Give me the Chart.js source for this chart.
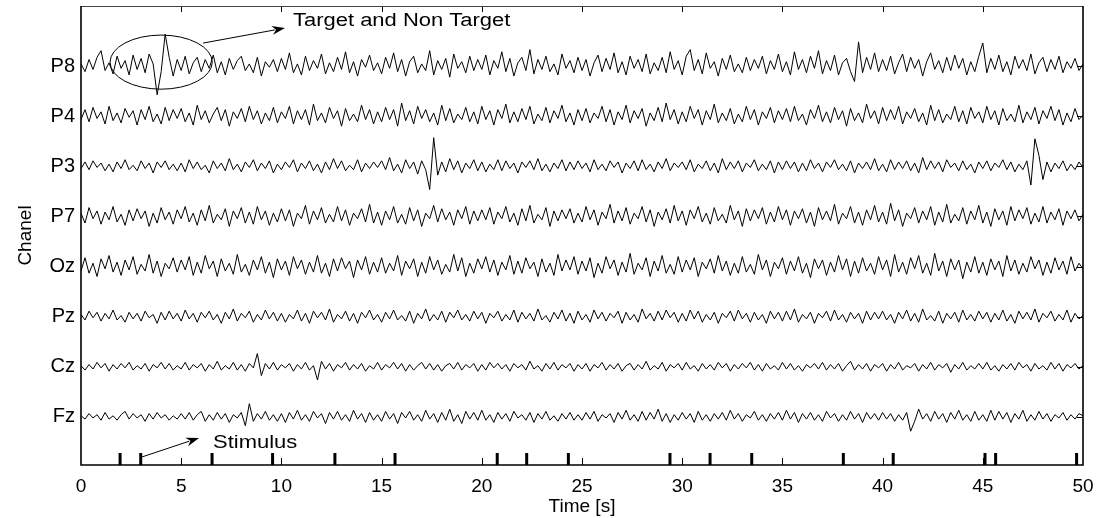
<!DOCTYPE html>
<html>
<head>
<meta charset="utf-8">
<script src="https://cdn.jsdelivr.net/npm/chart.js@4.4.1/dist/chart.umd.min.js"></script>
<style>
  html, body { margin: 0; padding: 0; background: #fff; }
  canvas { display: block; }
</style>
</head>
<body>
<canvas id="eeg" width="1101" height="518"></canvas>
<script>
// channels from bottom (level 1) to top (level 8)
var channelNames = ['Fz', 'Cz', 'Pz', 'Oz', 'P7', 'P3', 'P4', 'P8'];
var timeTicks = [0, 5, 10, 15, 20, 25, 30, 35, 40, 45, 50];
var sampleStep = 0.2; // seconds between samples
var stimulusTimes = [1.95, 2.98, 6.54, 9.56, 12.67, 15.67, 20.77, 22.24, 24.32, 29.39,
                     31.39, 33.47, 38.04, 40.53, 45.11, 45.64, 49.68];

// amplitudes (arbitrary units), one sample every 0.2 s from 0 to 50 s
var p8 = [
  2,-5,6,-3,8,14,-4,3,-7,9,-2,5,-8,10,-3,7,-6,11,2,-26,-5,29,8,-9,6,
  -4,9,-7,3,8,-5,6,-2,10,-6,4,-8,7,-3,5,9,-4,2,-6,8,-9,4,-1,6,-5,
  7,-3,12,-6,2,-8,9,-4,5,-2,11,-7,3,-5,8,-3,13,-6,4,-9,6,-1,10,-4,3,
  -7,8,-2,12,-5,6,-9,4,9,-6,2,-4,14,-8,5,-3,7,-10,11,-2,4,-6,9,-4,6,
  -3,10,-8,5,-2,13,-5,7,-9,3,8,-4,15,-7,6,-3,9,-5,2,-8,11,-2,5,-6,8,
  -4,6,-9,3,10,-5,7,-3,12,-6,4,-8,9,-2,6,-5,11,-7,3,-4,8,-6,13,-3,5,
  -8,9,15,-4,6,-7,12,-2,4,-9,7,-3,10,-5,2,-6,8,-4,6,-2,9,-7,5,-3,11,
  -5,4,-8,13,-3,6,-6,9,-2,14,-7,5,-4,10,-8,3,7,-5,-14,22,-6,8,-3,12,-5,
  6,-4,9,-7,3,11,-5,8,-2,6,-9,4,12,-3,5,-6,8,-4,10,-2,7,-8,4,-5,9,
  21,-6,7,-3,10,-5,4,-8,9,-2,6,-4,11,-7,3,8,-5,6,-3,9,-6,4,-2,7,-4,
  2
];
var p4 = [
  -3,6,-5,8,-2,4,-7,9,-4,3,-6,7,-1,5,-8,6,-3,9,-5,2,-7,8,-4,6,-2,
  7,-5,3,-8,10,-3,5,-6,2,8,-4,6,-9,4,-2,7,-5,9,-3,5,-7,3,-4,8,-6,
  4,-2,9,-7,5,-3,6,-8,11,-4,3,-6,8,-2,5,-9,7,-4,2,-5,10,-3,6,-7,4,
  -5,8,-3,6,-9,12,-4,5,-7,9,-2,6,-5,3,-8,10,-4,7,-6,2,-3,8,-5,4,-7,
  9,-3,5,-8,6,-2,11,-6,4,-5,7,-3,9,-7,2,-4,8,-6,5,-2,10,-5,3,-8,6,
  -4,7,-6,3,-2,9,-5,6,-8,4,-3,10,-6,5,-2,7,-9,3,-4,8,-5,12,-3,6,-7,
  4,-5,9,-2,6,-8,5,-3,11,-6,3,-4,7,-7,2,-5,9,-3,6,-8,4,-2,8,-6,5,
  -3,7,-5,9,-4,2,-8,6,-2,10,-5,4,-6,8,-3,5,-9,7,-4,3,-6,11,-2,5,-7,
  8,-4,6,-3,9,-7,4,-2,7,-5,3,-8,10,-4,6,-6,2,-3,9,-5,5,-7,8,-2,4,
  -6,9,-3,5,-8,7,-4,2,-5,10,-6,4,-3,8,-7,5,-2,9,-4,6,-8,3,-5,7,-3,
  1
];
var p3 = [
  -2,4,-3,5,-1,3,-4,2,-5,4,-2,6,-3,1,-4,5,-2,3,-6,4,-1,5,-3,2,-4,
  3,-5,6,-2,4,-3,1,-6,5,-2,3,-4,7,-3,2,-5,4,-1,6,-4,3,-2,5,-6,2,
  -3,4,-1,6,-5,3,-2,5,-4,2,-6,4,-3,7,-2,5,-4,1,-3,6,-5,3,-2,4,-1,
  5,-3,8,-4,2,-6,6,-2,4,-7,5,-3,-21,26,-8,4,-5,7,-3,5,-6,3,-2,6,-4,
  4,-5,2,-3,6,-4,5,-2,3,-6,4,-1,5,-3,7,-4,2,-5,3,-2,6,-4,4,-3,5,
  -2,3,-5,6,-3,2,-4,5,-1,4,-6,3,-2,5,-4,6,-3,2,-5,4,-2,7,-4,3,-1,
  4,-3,6,-5,2,-2,5,-4,3,-6,7,-3,4,-2,5,-5,3,-1,6,-4,2,-3,5,-6,4,
  -3,5,-2,4,-5,3,-4,6,-2,3,-5,4,-1,6,-3,2,-4,5,-6,3,-2,4,-3,7,-4,
  2,-5,6,-3,4,-2,5,-4,3,-6,8,-3,5,-2,4,-5,6,-1,3,-4,5,-3,2,-6,4,
  -2,5,-4,3,-1,6,-3,4,-5,2,-3,5,-17,25,10,-12,4,-5,3,-2,5,-4,2,-3,4,
  -1
];
var p7 = [
  3,-6,8,-2,5,-7,4,-3,9,-5,2,-8,6,-4,7,-2,5,-9,3,-6,8,-3,4,-7,6,
  -2,9,-5,3,-8,6,-4,10,-6,2,-3,7,-9,5,-2,8,-6,4,-7,9,-3,5,-8,3,-5,
  7,-4,6,-9,3,-2,10,-7,5,-3,8,-6,2,-5,9,-4,6,-8,3,-2,7,-5,11,-6,4,
  -8,5,-3,9,-6,2,-7,8,-4,6,-9,3,-2,10,-5,7,-3,4,-8,6,-2,9,-7,5,-4,
  6,-3,8,-7,4,-2,9,-5,3,-8,7,-4,10,-6,2,-3,8,-9,5,-4,6,-2,7,-6,3,
  -5,9,-3,6,-8,4,-2,11,-6,5,-4,8,-7,3,-2,9,-5,6,-9,4,-3,7,-6,10,-4,
  5,-8,6,-2,9,-5,3,-7,8,-4,2,-6,10,-3,5,-9,7,-4,6,-2,8,-7,4,-5,9,
  -3,6,-8,5,-2,7,-6,4,-9,8,-3,5,-4,11,-7,3,-2,9,-6,4,-8,6,-3,10,-5,
  4,-7,12,-4,6,-9,3,-2,8,-6,5,-3,9,-8,4,-5,11,-6,2,-4,8,-7,5,-3,10,
  -6,4,-9,7,-3,5,-8,9,-4,6,-2,8,-7,3,-5,9,-6,4,-3,7,-8,5,-2,6,-4,
  2
];
var oz = [
  -4,8,-6,3,-9,7,-2,10,-5,4,-8,6,-3,9,-7,2,-4,11,-6,5,-9,3,-2,8,-5,
  6,-3,9,-8,4,-6,10,-2,5,-9,7,-4,3,-7,11,-5,2,-8,6,-3,9,-6,4,-10,7,
  -3,5,-8,9,-2,6,-7,4,-5,10,-6,3,-9,7,-4,8,-2,5,-10,6,-3,9,-7,4,-5,
  8,-6,3,-4,10,-8,5,-2,7,-9,4,-6,9,-3,6,-7,2,-5,11,-4,8,-9,3,-6,7,
  -2,9,-5,6,-8,4,-3,10,-7,5,-6,8,-2,4,-9,7,-5,3,-8,11,-4,6,-3,9,-7,
  5,-4,8,-10,3,-6,9,-2,6,-8,4,-5,12,-7,3,-3,8,-9,5,-4,10,-6,2,-7,9,
  -5,6,-3,8,-9,4,-2,7,-6,10,-4,5,-8,3,-6,9,-5,2,-7,11,-3,6,-9,4,-2,
  8,-7,5,-4,9,-6,3,-10,7,-2,6,-8,4,-5,10,-3,7,-9,5,-6,8,-4,3,-7,9,
  -3,6,-9,11,-5,4,-7,8,-2,10,-6,3,-8,12,-4,5,-9,7,-3,6,-11,4,-5,9,-6,
  4,-8,7,-3,5,-9,10,-4,6,-7,3,-5,9,-2,6,-8,4,-6,8,-3,5,-7,9,-4,3,
  -2
];
var pz = [
  2,-3,5,-1,4,-4,3,-2,6,-3,1,-5,4,-2,3,-4,5,-1,2,-6,4,-3,5,-2,3,
  -4,6,-2,3,-5,4,-1,5,-3,2,-6,4,-2,7,-4,3,-1,5,-5,2,-3,6,-2,4,-4,
  3,-5,2,-2,6,-4,3,-6,5,-1,4,-3,7,-5,2,-2,5,-4,3,-6,4,-1,6,-3,2,
  -5,4,-2,6,-3,1,-4,5,-6,3,-2,7,-4,2,-3,5,-5,4,-1,6,-3,2,-4,5,-2,
  4,-6,3,-1,5,-4,2,-3,6,-5,4,-2,3,-4,7,-3,1,-5,4,-2,6,-4,3,-6,5,
  -3,2,-5,6,-2,4,-4,3,-1,5,-6,4,-3,2,-5,7,-2,3,-4,5,-3,6,-1,4,-5,
  3,-4,6,-2,5,-5,2,-3,4,-6,3,-1,5,-4,6,-2,3,-5,4,-3,2,-6,5,-2,4,
  -4,5,-3,7,-5,2,-2,4,-6,3,-1,5,-4,6,-3,2,-5,4,-2,3,-6,5,-3,4,-2,
  5,-3,2,-6,4,-2,6,-4,3,-5,7,-3,1,-4,5,-6,3,-2,4,-5,6,-3,2,-4,5,
  -2,4,-5,3,-3,6,-4,2,-6,5,-2,4,-3,7,-5,3,-1,5,-4,2,-3,6,-5,3,-2,
  1
];
var cz = [
  1,-3,2,-2,4,-1,3,-4,2,-2,3,-1,4,-3,1,-2,3,-4,2,-1,4,-2,3,-3,1,
  -2,4,-3,2,-1,3,-4,2,-2,5,-3,1,-2,4,-3,2,-4,3,-1,12,-8,3,-2,4,-3,
  2,-1,3,-4,2,-2,4,-3,1,-12,5,-2,3,-4,2,-1,4,-3,2,-2,3,-4,1,-2,4,
  -3,2,-1,4,-2,3,-4,2,-3,1,4,-2,3,-3,2,-4,1,3,-2,4,-3,2,-1,3,-4,
  2,-3,4,-1,3,-2,2,-4,3,-1,2,-3,5,-2,1,-4,3,-2,4,-3,2,-1,3,-4,2,
  -2,3,-4,2,-1,4,-3,2,-2,3,-4,1,3,-3,2,-2,5,-3,1,-2,4,-4,2,-1,3,
  -3,4,-2,1,-4,3,-2,2,-3,4,-1,3,-4,2,-2,3,-1,4,-3,2,-4,3,-2,1,-3,
  4,-2,3,-3,1,-4,2,-1,3,-2,4,-3,2,-2,3,-4,1,5,-3,2,-2,3,-4,2,-1,
  3,-4,2,-2,4,-3,1,-1,3,-4,2,-2,4,-3,2,-1,3,-5,2,-2,4,-3,1,-2,3,
  -2,4,-3,1,-4,2,-2,3,-3,4,-1,2,-4,3,-2,1,-3,4,-2,3,-4,2,-1,3,-2,
  1
];
var fz = [
  1,-2,3,-1,2,-3,4,-2,1,-3,2,5,-2,3,-1,2,-4,3,-2,4,-1,2,-3,1,-2,
  3,-2,4,-3,2,5,-4,2,-3,4,-2,3,-5,2,-1,4,-8,12,-4,3,-2,5,-3,2,-4,
  3,-5,4,-2,6,-3,2,-4,5,-1,3,-6,4,-2,5,-3,2,-4,6,-2,3,-5,4,-3,2,
  -4,5,-2,3,-6,4,-1,5,-3,2,-4,6,-2,3,-5,4,-3,7,-4,2,-6,5,-2,4,-3,
  6,-3,2,-5,4,-2,3,-4,5,-1,2,-3,4,-5,3,-2,5,-3,1,-4,3,-2,4,-3,2,
  -3,4,-2,5,-4,2,-1,3,-5,4,-2,6,-3,2,-4,5,-3,4,-2,7,-4,3,-5,2,-3,
  4,-2,3,-5,5,-3,2,-4,3,-2,4,-3,6,-2,3,-4,2,-1,5,-3,2,-4,3,-2,4,
  -3,6,-2,4,-5,3,-2,4,-3,2,-4,5,-1,3,-4,2,-3,5,-2,3,-5,4,-2,3,-3,
  4,-2,3,-4,2,-3,4,-13,-4,7,-2,3,-4,5,-2,3,-5,4,-2,6,-3,2,-4,5,-3,
  2,-4,6,-3,5,-2,4,-5,3,-2,6,-4,2,-3,5,-2,3,-4,2,-1,4,-3,2,-2,3,
  1
];
var channelData = [fz, cz, pz, oz, p7, p3, p4, p8];

var yMin = 0.04, yMax = 9.2;
var gain = 0.022; // amplitude unit -> channel spacing
var stimHeight = 0.24;

var datasets = channelData.map(function (values, c) {
  return {
    label: channelNames[c],
    data: values.map(function (v, i) { return { x: i * sampleStep, y: c + 1 + v * gain }; }),
    borderColor: '#000',
    borderWidth: 1,
    pointRadius: 0,
    tension: 0,
    fill: false
  };
});

var stimPoints = [];
stimulusTimes.forEach(function (t) {
  stimPoints.push({ x: t, y: yMin }, { x: t, y: yMin + stimHeight }, { x: t, y: null });
});
datasets.push({
  label: 'Stimulus',
  data: stimPoints,
  borderColor: '#000',
  borderWidth: 3,
  pointRadius: 0,
  spanGaps: false,
  fill: false
});

// annotation anchors in data units
var note = {
  ellipse: { x: 4.0, y: 8.08, rx: 2.55, ry: 0.54 },
  targetArrow: { x0: 6.09, y0: 8.46, x1: 10.18, y1: 8.76 },
  targetText: { x: 10.58, y: 8.9, text: 'Target and Non Target' },
  stimArrow: { x0: 3.04, y0: 0.2, x1: 5.89, y1: 0.58 },
  stimText: { x: 6.59, y: 0.48, text: 'Stimulus' }
};

function drawArrow(ctx, x0, y0, x1, y1) {
  var ang = Math.atan2(y1 - y0, x1 - x0), len = 13, half = 4.5;
  ctx.beginPath();
  ctx.moveTo(x0, y0);
  ctx.lineTo(x1 - Math.cos(ang) * len * 0.8, y1 - Math.sin(ang) * len * 0.8);
  ctx.stroke();
  ctx.beginPath();
  ctx.moveTo(x1, y1);
  ctx.lineTo(x1 - Math.cos(ang) * len + Math.sin(ang) * half, y1 - Math.sin(ang) * len - Math.cos(ang) * half);
  ctx.lineTo(x1 - Math.cos(ang) * len * 0.7, y1 - Math.sin(ang) * len * 0.7);
  ctx.lineTo(x1 - Math.cos(ang) * len - Math.sin(ang) * half, y1 - Math.sin(ang) * len + Math.cos(ang) * half);
  ctx.closePath();
  ctx.fill();
}

function drawStretched(ctx, text, x, y) {
  ctx.save();
  ctx.translate(x, y);
  ctx.scale(1.22, 1);
  ctx.fillText(text, 0, 0);
  ctx.restore();
}

var decorations = {
  id: 'decorations',
  afterDatasetsDraw: function (chart) {
    var ctx = chart.ctx, a = chart.chartArea;
    var xs = chart.scales.x, ys = chart.scales.y;
    ctx.save();
    ctx.strokeStyle = '#000';
    ctx.fillStyle = '#000';
    ctx.lineWidth = 1;

    // inner tick marks
    ctx.beginPath();
    timeTicks.forEach(function (t) {
      if (t <= 0 || t >= 50) return;
      var px = Math.round(xs.getPixelForValue(t)) + 0.5;
      ctx.moveTo(px, a.top); ctx.lineTo(px, a.top + 6);
      ctx.moveTo(px, a.bottom); ctx.lineTo(px, a.bottom - 7);
    });
    channelNames.forEach(function (n, i) {
      var py = Math.round(ys.getPixelForValue(i + 1)) + 0.5;
      ctx.moveTo(a.right, py); ctx.lineTo(a.right - 6, py);
    });
    ctx.stroke();

    // axes box
    ctx.lineWidth = 1;
    ctx.strokeStyle = '#444';
    ctx.beginPath();
    ctx.moveTo(a.left, a.top + 0.5); ctx.lineTo(a.right, a.top + 0.5);
    ctx.stroke();
    ctx.strokeStyle = '#000';
    ctx.lineWidth = 1.6;
    ctx.beginPath();
    ctx.moveTo(a.left, a.top); ctx.lineTo(a.left, a.bottom);
    ctx.lineTo(a.right, a.bottom); ctx.lineTo(a.right, a.top);
    ctx.stroke();

    // ellipse around target response
    var e = note.ellipse;
    var cx = xs.getPixelForValue(e.x), cy = ys.getPixelForValue(e.y);
    var rx = xs.getPixelForValue(e.x + e.rx) - cx, ry = cy - ys.getPixelForValue(e.y + e.ry);
    ctx.lineWidth = 1;
    ctx.beginPath();
    ctx.ellipse(cx, cy, rx, ry, 0, 0, Math.PI * 2);
    ctx.stroke();

    var ta = note.targetArrow, sa = note.stimArrow;
    drawArrow(ctx, xs.getPixelForValue(ta.x0), ys.getPixelForValue(ta.y0),
              xs.getPixelForValue(ta.x1), ys.getPixelForValue(ta.y1));
    drawArrow(ctx, xs.getPixelForValue(sa.x0), ys.getPixelForValue(sa.y0),
              xs.getPixelForValue(sa.x1), ys.getPixelForValue(sa.y1));

    ctx.font = '18px "Liberation Sans", Arial, sans-serif';
    ctx.textBaseline = 'middle';
    ctx.textAlign = 'left';
    drawStretched(ctx, note.targetText.text, xs.getPixelForValue(note.targetText.x), ys.getPixelForValue(note.targetText.y));
    drawStretched(ctx, note.stimText.text, xs.getPixelForValue(note.stimText.x), ys.getPixelForValue(note.stimText.y));
    ctx.restore();
  }
};

Chart.defaults.font.family = '"Liberation Sans", Arial, sans-serif';
Chart.defaults.color = '#000';

new Chart(document.getElementById('eeg').getContext('2d'), {
  type: 'line',
  data: { datasets: datasets },
  options: {
    responsive: false,
    animation: false,
    devicePixelRatio: 1,
    normalized: true,
    layout: { padding: { top: 6, right: 18, left: 0, bottom: 0 } },
    plugins: { legend: { display: false }, tooltip: { enabled: false } },
    scales: {
      x: {
        type: 'linear',
        min: 0,
        max: 50,
        afterBuildTicks: function (scale) {
          scale.ticks = timeTicks.map(function (v) { return { value: v }; });
        },
        afterFit: function (scale) {
          scale.height = 53;
          scale.paddingLeft = 0;
          scale.paddingRight = 0;
        },
        grid: { display: false, drawTicks: false },
        border: { display: false },
        ticks: { padding: 10, maxRotation: 0, font: { size: 19 } },
        title: { display: true, text: 'Time [s]', font: { size: 19 }, padding: { top: 0, bottom: 0 } }
      },
      y: {
        type: 'linear',
        min: yMin,
        max: yMax,
        afterBuildTicks: function (scale) {
          scale.ticks = channelNames.map(function (n, i) { return { value: i + 1 }; });
        },
        afterFit: function (scale) {
          scale.width = 81;
          scale.paddingTop = 0;
          scale.paddingBottom = 0;
        },
        grid: { display: false, drawTicks: false },
        border: { display: false },
        ticks: {
          padding: 6,
          font: { size: 20 },
          callback: function (v) { return channelNames[v - 1]; }
        },
        title: { display: true, text: 'Chanel', font: { size: 19 }, padding: { top: 14, bottom: 0 } }
      }
    }
  },
  plugins: [decorations]
});
</script>
</body>
</html>
